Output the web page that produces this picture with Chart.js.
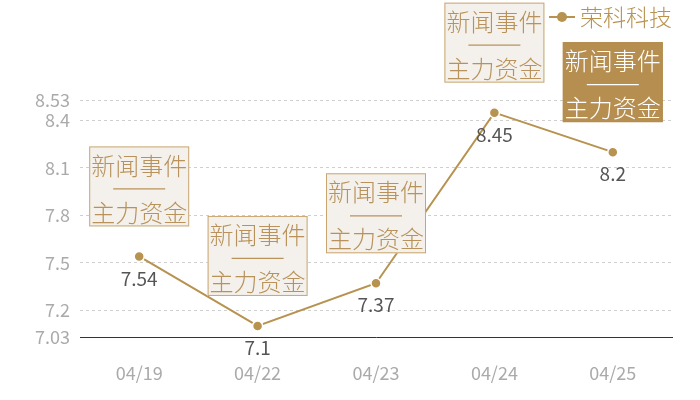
<!DOCTYPE html>
<html><head><meta charset="utf-8">
<script src="https://cdn.jsdelivr.net/npm/chart.js@4"></script>
<style>html,body{margin:0;padding:0;background:#fff}</style>
</head><body>
<canvas id="c" width="700" height="400"></canvas>
<script>
const categories = ['04/19', '04/22', '04/23', '04/24', '04/25'];
const prices = [7.54, 7.1, 7.37, 8.45, 8.2];
const yTicks = [7.03, 7.2, 7.5, 7.8, 8.1, 8.4, 8.53];
const seriesName = '荣科科技';
const eventTop = '新闻事件';
const eventBottom = '主力资金';
const highlighted = [false, false, false, false, true];

const FONT = '"Noto Sans CJK SC", "Noto Sans", sans-serif';
const GOLD = '#b8924f';

const overlay = {
  id: 'overlay',
  afterDatasetsDraw(chart) {
    const ctx = chart.ctx;
    const meta = chart.getDatasetMeta(0);
    ctx.save();
    meta.data.forEach((pt, i) => {
      const x = pt.x, y = pt.y;
      // value label
      ctx.font = '19px ' + FONT;
      ctx.fillStyle = '#555';
      ctx.textAlign = 'center';
      ctx.textBaseline = 'middle';
      ctx.fillText(String(prices[i]), x, y + 22);
      // event box
      const w = 100, h = 80;
      const bx = x - w / 2, by = y - 30 - h;
      ctx.fillStyle = highlighted[i] ? '#b58e50' : '#f4f1ec';
      ctx.fillRect(bx, by, w, h);
      ctx.strokeStyle = highlighted[i] ? '#b58e50' : '#c9a670';
      ctx.lineWidth = 1;
      ctx.strokeRect(bx + 0.5, by + 0.5, w - 1, h - 1);
      const tc = highlighted[i] ? '#ffffff' : '#b8925a';
      ctx.fillStyle = tc;
      ctx.font = '300 24px ' + FONT;
      ctx.fillText(eventTop, x, by + 19);
      ctx.fillText(eventBottom, x, by + 66);
      ctx.strokeStyle = tc;
      ctx.lineWidth = 1.2;
      ctx.beginPath();
      ctx.moveTo(x - 26, by + 42.5);
      ctx.lineTo(x + 26, by + 42.5);
      ctx.stroke();
    });
    // legend
    const lx = 549, ly = 17;
    ctx.strokeStyle = GOLD;
    ctx.lineWidth = 2;
    ctx.beginPath(); ctx.moveTo(lx, ly); ctx.lineTo(lx + 26, ly); ctx.stroke();
    ctx.fillStyle = GOLD;
    ctx.beginPath(); ctx.arc(lx + 13, ly, 5, 0, Math.PI * 2); ctx.fill();
    ctx.font = '300 23px ' + FONT;
    ctx.textAlign = 'left';
    ctx.fillText(seriesName, lx + 31, ly);
    ctx.restore();
  }
};

new Chart(document.getElementById('c'), {
  type: 'line',
  data: {
    labels: categories,
    datasets: [{
      label: seriesName,
      data: prices,
      borderColor: GOLD,
      backgroundColor: GOLD,
      borderWidth: 2,
      pointRadius: 5,
      pointBackgroundColor: GOLD,
      pointBorderColor: '#ffffff',
      pointBorderWidth: 1.5,
      tension: 0
    }]
  },
  options: {
    responsive: false,
    animation: false,
    devicePixelRatio: 1,
    layout: { padding: { top: 100, right: 28, left: 0, bottom: 0 } },
    plugins: { legend: { display: false }, tooltip: { enabled: false } },
    scales: {
      x: {
        offset: true,
        grid: { display: false },
        border: { display: true, color: '#333', width: 1 },
        ticks: { color: '#aaa', font: { size: 18, family: FONT }, padding: 17 },
        afterFit(s) { s.height = 63; }
      },
      y: {
        min: 7.03,
        max: 8.53,
        afterBuildTicks(s) { s.ticks = yTicks.map(v => ({ value: v })); },
        grid: {
          drawTicks: false,
          color: c => (c.tick && c.tick.value === 7.03) ? 'rgba(0,0,0,0)' : '#cfcfcf'
        },
        border: { display: false, dash: [3, 3] },
        ticks: {
          color: '#aaa',
          font: { size: 18, family: FONT },
          padding: 10,
          autoSkip: false,
          callback: v => String(v)
        },
        afterFit(s) { s.width = 80; }
      }
    }
  },
  plugins: [overlay]
});
</script>
</body></html>
